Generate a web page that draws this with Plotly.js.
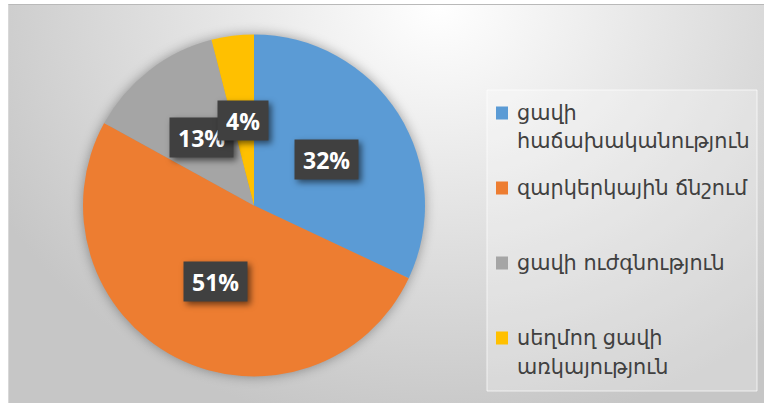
<!DOCTYPE html>
<html>
<head>
<meta charset="utf-8">
<script src="https://cdn.plot.ly/plotly-3.0.1.min.js"></script>
<style>
  html, body { margin: 0; padding: 0; background: #ffffff; }
  #wrap { position: relative; width: 764px; height: 403px; overflow: hidden; }
  #bg { position: absolute; left: 8px; top: 4px; right: 0; bottom: 0;
        border-top: 1px solid #b9b9b9; border-left: 1px solid #d8d8d8;
        background: radial-gradient(ellipse 500px 430px at 430px 0px, #ffffff 0%, #e8e8e8 40%, #c6c6c6 100%); }
  #chart { position: absolute; left: 0; top: 0; width: 764px; height: 403px; }
  .pielayer { filter: drop-shadow(0px 0px 6px rgba(0,0,0,0.35)); }
  g.annotation-text-g rect.bg { filter: drop-shadow(3px 3px 3px rgba(0,0,0,0.55)); }
</style>
</head>
<body>
<div id="wrap"><div id="bg"></div><div id="chart"></div></div>
<script>
// ---- data ----
const labels = ['ցավի\nհաճախականություն', 'զարկերկային ճնշում', 'ցավի ուժգնություն', 'սեղմող ցավի\nառկայություն'];
const values = [32, 51, 13, 4];
const colors = ['#5B9BD5', '#ED7D31', '#A5A5A5', '#FFC000'];

// ---- layout geometry (pixels) ----
const W = 764, H = 403;
const cx = 254, cy = 205.5, R = 171;
const labelR = 0.5;

const total = values.reduce((a, b) => a + b, 0);

const trace = {
  type: 'pie',
  labels: labels.map(l => l.replace('\n', ' ')),
  values: values,
  marker: { colors: colors, line: { width: 0 } },
  sort: false,
  direction: 'clockwise',
  rotation: 0,
  textinfo: 'none',
  hoverinfo: 'label+percent',
  showlegend: false,
  domain: { x: [(cx - R) / W, (cx + R) / W], y: [(H - cy - R) / H, (H - cy + R) / H] }
};

const annotations = [];
const shapes = [];

// percentage data labels in dark boxes
let cum = 0;
values.forEach((v, i) => {
  const mid = (cum + v / 2) / total * 2 * Math.PI;
  cum += v;
  const px = cx + labelR * R * Math.sin(mid);
  const py = cy - labelR * R * Math.cos(mid);
  annotations.push({
    xref: 'paper', yref: 'paper', x: px / W, y: 1 - py / H,
    xanchor: 'center', yanchor: 'middle', showarrow: false,
    text: '<b>' + Math.round(v / total * 100) + '%</b>',
    font: { family: 'Open Sans, Liberation Sans, sans-serif', size: 23, color: '#ffffff' },
    bgcolor: '#404040', bordercolor: 'rgba(0,0,0,0)', borderwidth: 1, borderpad: 8,
    height: 23
  });
});

// legend box
shapes.push({
  type: 'rect', xref: 'paper', yref: 'paper', layer: 'below',
  x0: 487 / W, x1: 757 / W, y0: 1 - 391 / H, y1: 1 - 90 / H,
  fillcolor: 'rgba(255,255,255,0.25)', line: { color: 'rgba(255,255,255,0.7)', width: 1 }
});

// legend entries
const legTop = 113, legStep = 75, lineStep = 28.5;
labels.forEach((lab, i) => {
  const y0 = legTop + i * legStep;
  shapes.push({
    type: 'rect', xref: 'paper', yref: 'paper',
    x0: 496 / W, x1: 508 / W, y0: 1 - (y0 + 6.5) / H, y1: 1 - (y0 - 6.5) / H,
    fillcolor: colors[i], line: { width: 0 }
  });
  lab.split('\n').forEach((ln, j) => {
    annotations.push({
      xref: 'paper', yref: 'paper', x: 515 / W, y: 1 - (y0 + j * lineStep) / H,
      xanchor: 'left', yanchor: 'middle', showarrow: false,
      text: ln,
      font: { family: 'DejaVu Sans, sans-serif', size: 20.8, color: '#404040' }
    });
  });
});

const layout = {
  width: W, height: H,
  margin: { l: 0, r: 0, t: 0, b: 0 },
  paper_bgcolor: 'rgba(0,0,0,0)',
  plot_bgcolor: 'rgba(0,0,0,0)',
  showlegend: false,
  annotations: annotations,
  shapes: shapes
};

Plotly.newPlot('chart', [trace], layout, { displayModeBar: false, staticPlot: true });
</script>
</body>
</html>
